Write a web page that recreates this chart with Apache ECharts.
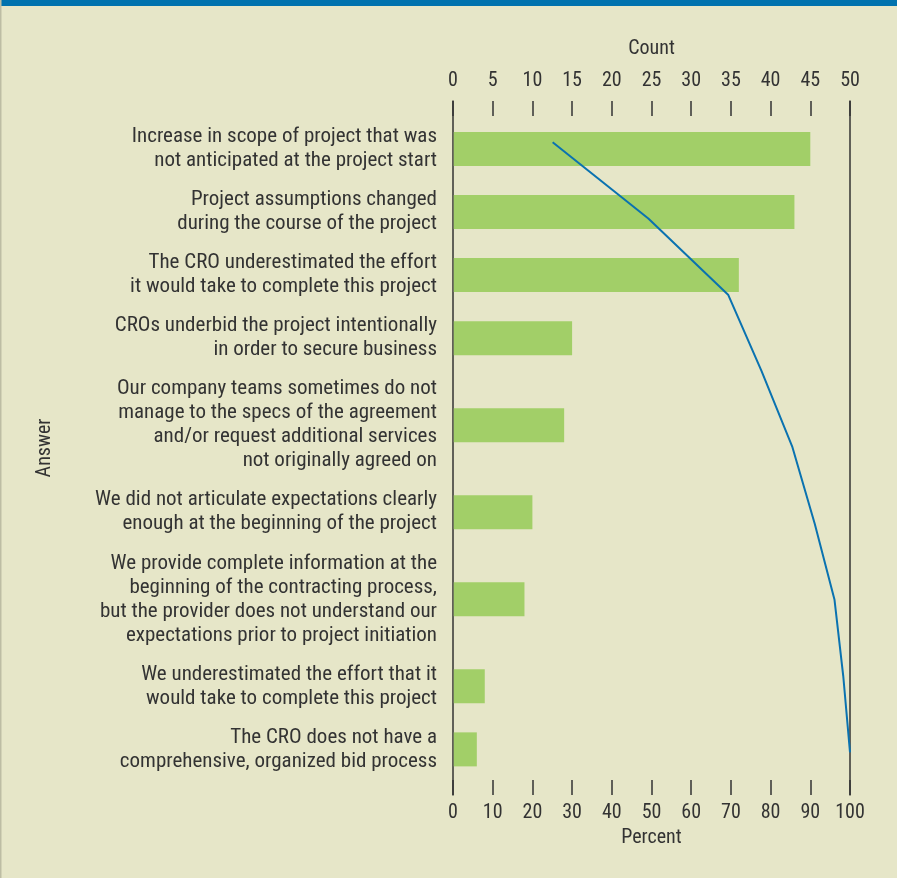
<!DOCTYPE html>
<html>
<head>
<meta charset="utf-8">
<title>Reasons for change orders</title>
<script src="https://cdn.jsdelivr.net/npm/echarts@6/dist/echarts.min.js"></script>
<style>
  html, body { margin: 0; padding: 0; background: #e6e6c8; }
  #chart { width: 897px; height: 878px; }
</style>
</head>
<body>
<div id="chart"></div>
<script>
// Answers (one label per bar, line breaks as typeset)
const answers = [
  'Increase in scope of project that was\nnot anticipated at the project start',
  'Project assumptions changed\nduring the course of the project',
  'The CRO underestimated the effort\nit would take to complete this project',
  'CROs underbid the project intentionally\nin order to secure business',
  'Our company teams sometimes do not\nmanage to the specs of the agreement\nand/or request additional services\nnot originally agreed on',
  'We did not articulate expectations clearly\nenough at the beginning of the project',
  'We provide complete information at the\nbeginning of the contracting process,\nbut the provider does not understand our\nexpectations prior to project initiation',
  'We underestimated the effort that it\nwould take to complete this project',
  'The CRO does not have a\ncomprehensive, organized bid process'
];

// Number of respondents giving each answer
const counts = [45, 43, 36, 15, 14, 10, 9, 4, 3];

// Cumulative percent of respondents
const cumulativePercent = [25.1, 49.2, 69.3, 77.7, 85.5, 91.1, 96.1, 98.3, 100];

// Axis ticks
const countTicks = { min: 0, max: 50, interval: 5 };
const percentTicks = { min: 0, max: 100, interval: 10 };

// Vertical layout of the bar rows, measured in label text lines
const LINE_PX = 24;          // label line height
const ROW_GAP = 0.625;       // gap between label blocks (lines)
const TOP_PAD = 1;           // space above the first block (lines)
const BOTTOM_PAD = 0.9;      // space below the last block (lines)
const BAR_THICK = 34 / LINE_PX;

const lineCounts = answers.map(a => a.split('\n').length);
const rowCenters = [];
let cursor = TOP_PAD;
lineCounts.forEach((n, i) => {
  rowCenters.push(cursor + n / 2);
  cursor += n + (i < lineCounts.length - 1 ? ROW_GAP : 0);
});
const rowAxisMax = cursor + BOTTOM_PAD;

// The cumulative line uses evenly spaced steps on its own vertical scale
const stepAxis = { min: -0.54, max: 8.56 };

const FONT = "'Liberation Sans Narrow', 'Roboto Condensed', 'DejaVu Sans Condensed', 'Liberation Sans', sans-serif";
const TEXT = '#333333';

const barData = counts.map((c, i) => [c, rowCenters[i]]);
const lineData = cumulativePercent.map((p, i) => [p, i]);

const chart = echarts.init(document.getElementById('chart'), null, { renderer: 'canvas' });

chart.setOption({
  backgroundColor: '#e6e6c8',
  animation: false,
  textStyle: { fontFamily: FONT, color: TEXT },
  graphic: [
    { type: 'rect', left: 0, top: 0, shape: { width: 897, height: 6 }, style: { fill: '#0072ae' } },
    { type: 'rect', left: 0, top: 0, shape: { width: 1.5, height: 878 }, style: { fill: '#bdbda4' } }
  ],
  grid: { left: 453, top: 101, width: 397, height: 694, containLabel: false },
  xAxis: [
    {
      type: 'value',
      position: 'top',
      min: countTicks.min, max: countTicks.max, interval: countTicks.interval,
      name: 'Count', nameLocation: 'middle', nameGap: 42,
      nameTextStyle: { fontFamily: FONT, fontSize: 20, color: TEXT },
      axisLine: { show: false, onZero: false },
      axisTick: { show: true, inside: true, length: 15, lineStyle: { color: TEXT, width: 1.5 } },
      axisLabel: { fontFamily: FONT, fontSize: 20, color: TEXT, margin: 10 },
      splitLine: { show: false }
    },
    {
      type: 'value',
      position: 'bottom',
      min: percentTicks.min, max: percentTicks.max, interval: percentTicks.interval,
      name: 'Percent', nameLocation: 'middle', nameGap: 32,
      nameTextStyle: { fontFamily: FONT, fontSize: 20, color: TEXT },
      axisLine: { show: false, onZero: false },
      axisTick: { show: true, inside: true, length: 15, lineStyle: { color: TEXT, width: 1.5 } },
      axisLabel: { fontFamily: FONT, fontSize: 20, color: TEXT, margin: 8 },
      splitLine: { show: false }
    }
  ],
  yAxis: [
    {
      type: 'value',
      inverse: true,
      min: 0, max: rowAxisMax,
      position: 'left',
      name: 'Answer', nameLocation: 'middle', nameRotate: 90, nameGap: 398,
      nameTextStyle: { fontFamily: FONT, fontSize: 20, color: TEXT },
      axisLine: { show: true, onZero: false, lineStyle: { color: TEXT, width: 1.5 } },
      axisTick: { show: false },
      splitLine: { show: false },
      axisLabel: {
        customValues: rowCenters,
        hideOverlap: false,
        fontFamily: FONT, fontSize: 21, lineHeight: LINE_PX,
        color: TEXT, align: 'right', margin: 16,
        formatter: function (v) {
          let best = 0;
          rowCenters.forEach((c, i) => { if (Math.abs(c - v) < Math.abs(rowCenters[best] - v)) best = i; });
          return answers[best];
        }
      }
    },
    {
      type: 'value',
      inverse: true,
      min: stepAxis.min, max: stepAxis.max,
      position: 'right',
      axisLine: { show: true, onZero: false, lineStyle: { color: TEXT, width: 1.5 } },
      axisTick: { show: false },
      axisLabel: { show: false },
      splitLine: { show: false }
    }
  ],
  series: [
    {
      type: 'custom',
      name: 'Count',
      xAxisIndex: 0,
      yAxisIndex: 0,
      data: barData,
      encode: { x: 0, y: 1 },
      renderItem: function (params, api) {
        const c = api.value(0);
        const y = api.value(1);
        const p0 = api.coord([0, y]);
        const p1 = api.coord([c, y]);
        const h = api.size([0, BAR_THICK])[1];
        return {
          type: 'rect',
          shape: { x: p0[0] + 0.75, y: p0[1] - h / 2, width: p1[0] - p0[0] - 0.75, height: h },
          style: { fill: '#a2cf68' }
        };
      },
      z: 2
    },
    {
      type: 'line',
      name: 'Cumulative percent',
      xAxisIndex: 1,
      yAxisIndex: 1,
      data: lineData,
      showSymbol: false,
      symbol: 'none',
      lineStyle: { color: '#0a72b0', width: 2 },
      z: 3
    }
  ]
});
</script>
</body>
</html>
